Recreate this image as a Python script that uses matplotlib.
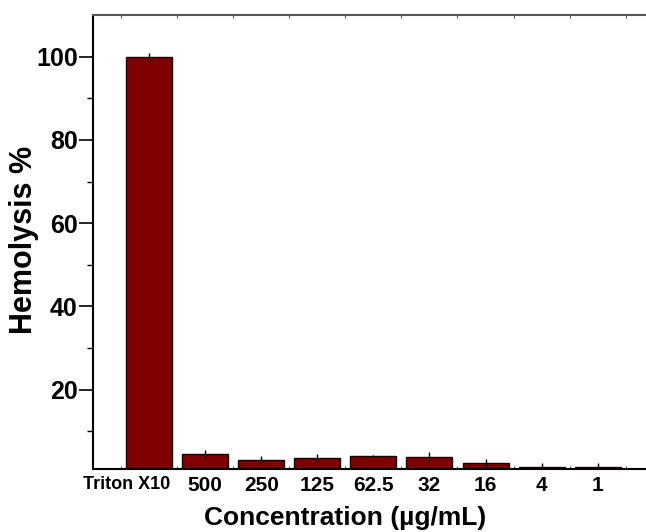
import numpy as np
import matplotlib
matplotlib.use('Agg')
import matplotlib.pyplot as plt
import matplotlib.transforms as mtransforms

plt.rcParams['font.family'] = ['Liberation Sans', 'DejaVu Sans']
plt.rcParams['font.weight'] = 'bold'

# data
categories = ['Triton X10', '500', '250', '125', '62.5', '32', '16', '4', '1']
hemolysis = [100, 4.5, 3.15, 3.5, 4.1, 3.7, 2.3, 1.4, 1.4]
errors = [1.0, 1.1, 1.0, 1.1, 0.1, 1.2, 1.1, 0.9, 0.9]

x = np.arange(len(categories))

fig = plt.figure(figsize=(6.46, 5.32), dpi=100)
ax = fig.add_axes([0.144, 0.1175, 0.868, 0.854])

ax.bar(x, hemolysis, width=0.82, color='#7f0000', edgecolor='#1a0000', linewidth=1.0)
ax.errorbar(x, hemolysis, yerr=errors, fmt='none', ecolor='black', elinewidth=1.0, capsize=0)

ax.set_xlim(-1, 9)
ax.set_ylim(0.8, 110)

# y axis
ax.set_yticks([20, 40, 60, 80, 100])
ax.set_yticks([10, 30, 50, 70, 90], minor=True)
ax.tick_params(axis='y', which='major', direction='out', length=10, width=1.2, pad=1, labelsize=18)
ax.tick_params(axis='y', which='minor', direction='out', length=4, width=1.0)

# x axis: labels at bars, small ticks between bars
ax.set_xticks(x)
ax.set_xticklabels(categories)
ax.set_xticks(np.arange(-0.5, 9.0, 0.5), minor=True)
ax.tick_params(axis='x', which='major', length=0, pad=5, labelsize=15)
ax.tick_params(axis='x', which='minor', direction='in', length=2, width=0.8,
               color='#555555', top=True, bottom=True)

# first label is smaller and sits left of its bar
lab0 = ax.get_xticklabels()[0]
lab0.set_fontsize(13)
lab0.set_transform(lab0.get_transform() +
                   mtransforms.ScaledTranslation(-22 / 100, 0, fig.dpi_scale_trans))

for s in ['left', 'bottom']:
    ax.spines[s].set_linewidth(1.5)
    ax.spines[s].set_color('black')
ax.spines['top'].set_color('#555555')
ax.spines['top'].set_linewidth(1.5)
ax.spines['right'].set_visible(False)

ax.set_ylabel('Hemolysis %', fontsize=22, fontweight='bold')
ax.yaxis.set_label_coords(-0.096, 0.505)
ax.set_xlabel('Concentration (\u00b5g/mL)', fontsize=19, fontweight='bold')
ax.xaxis.set_label_coords(0.449, -0.08)

fig.savefig('out.png', dpi=100)
